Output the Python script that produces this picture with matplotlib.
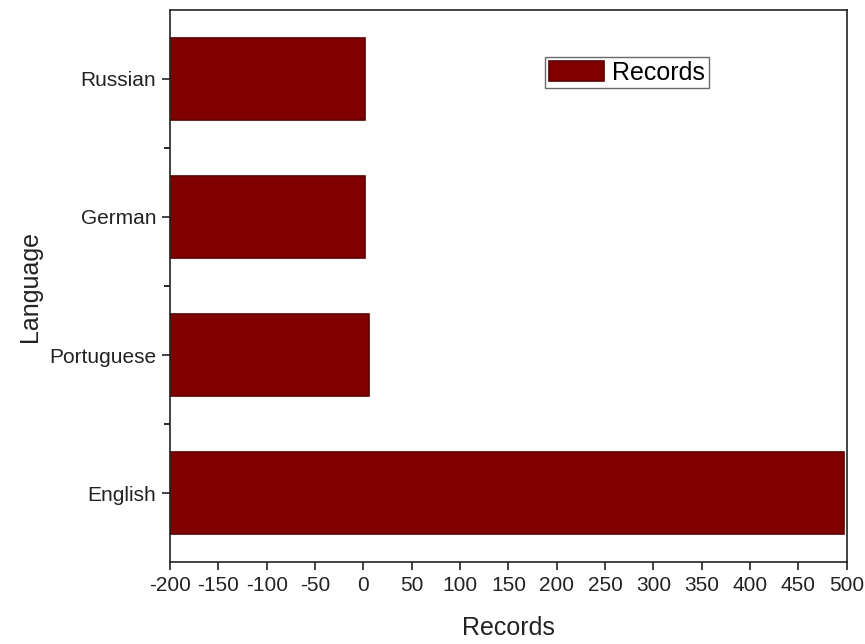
import matplotlib
matplotlib.use("Agg")
import matplotlib.pyplot as plt
from matplotlib.ticker import FixedLocator

languages = ["English", "Portuguese", "German", "Russian"]
records = [497, 6, 2, 2]
xticks = list(range(-200, 501, 50))
baseline = -200

plt.rcParams['font.family'] = ['Liberation Sans', 'DejaVu Sans']

fig = plt.figure(figsize=(8.65, 6.44), dpi=100)
ax = fig.add_axes([0.1965, 0.1273, 0.7825, 0.8572])

ypos = list(range(len(languages)))
widths = [r - baseline for r in records]
ax.barh(ypos, widths, left=baseline, height=0.6, color='#800000',
        edgecolor='#5c0000', linewidth=1.2, label='Records')

ax.set_xlim(-200, 500)
ax.set_ylim(-0.5, 3.5)
ax.set_xticks(xticks)
ax.set_xticklabels([str(t) for t in xticks])
ax.set_yticks(ypos)
ax.set_yticklabels(languages)
ax.yaxis.set_minor_locator(FixedLocator([0.5, 1.5, 2.5]))

ax.tick_params(axis='both', which='major', direction='out', length=6, width=1.2,
               labelsize=15, colors='#222222', pad=4)
ax.tick_params(axis='y', which='minor', direction='out', length=4, width=1.2)
ax.tick_params(top=False, right=False)
for s in ax.spines.values():
    s.set_linewidth(1.2)
    s.set_color('#222222')

ax.set_xlabel('Records', fontsize=18, color='#222222', labelpad=15)
ax.set_ylabel('Language', fontsize=18, color='#222222', labelpad=5)

leg = ax.legend(loc='upper left', bbox_to_anchor=(0.554, 0.915), fontsize=18,
                frameon=True, fancybox=False, edgecolor='#444444',
                handlelength=2.2, handleheight=0.8, borderpad=0.15,
                handletextpad=0.35, borderaxespad=0)
leg.get_frame().set_linewidth(1.0)

fig.savefig('out.png', dpi=100)
